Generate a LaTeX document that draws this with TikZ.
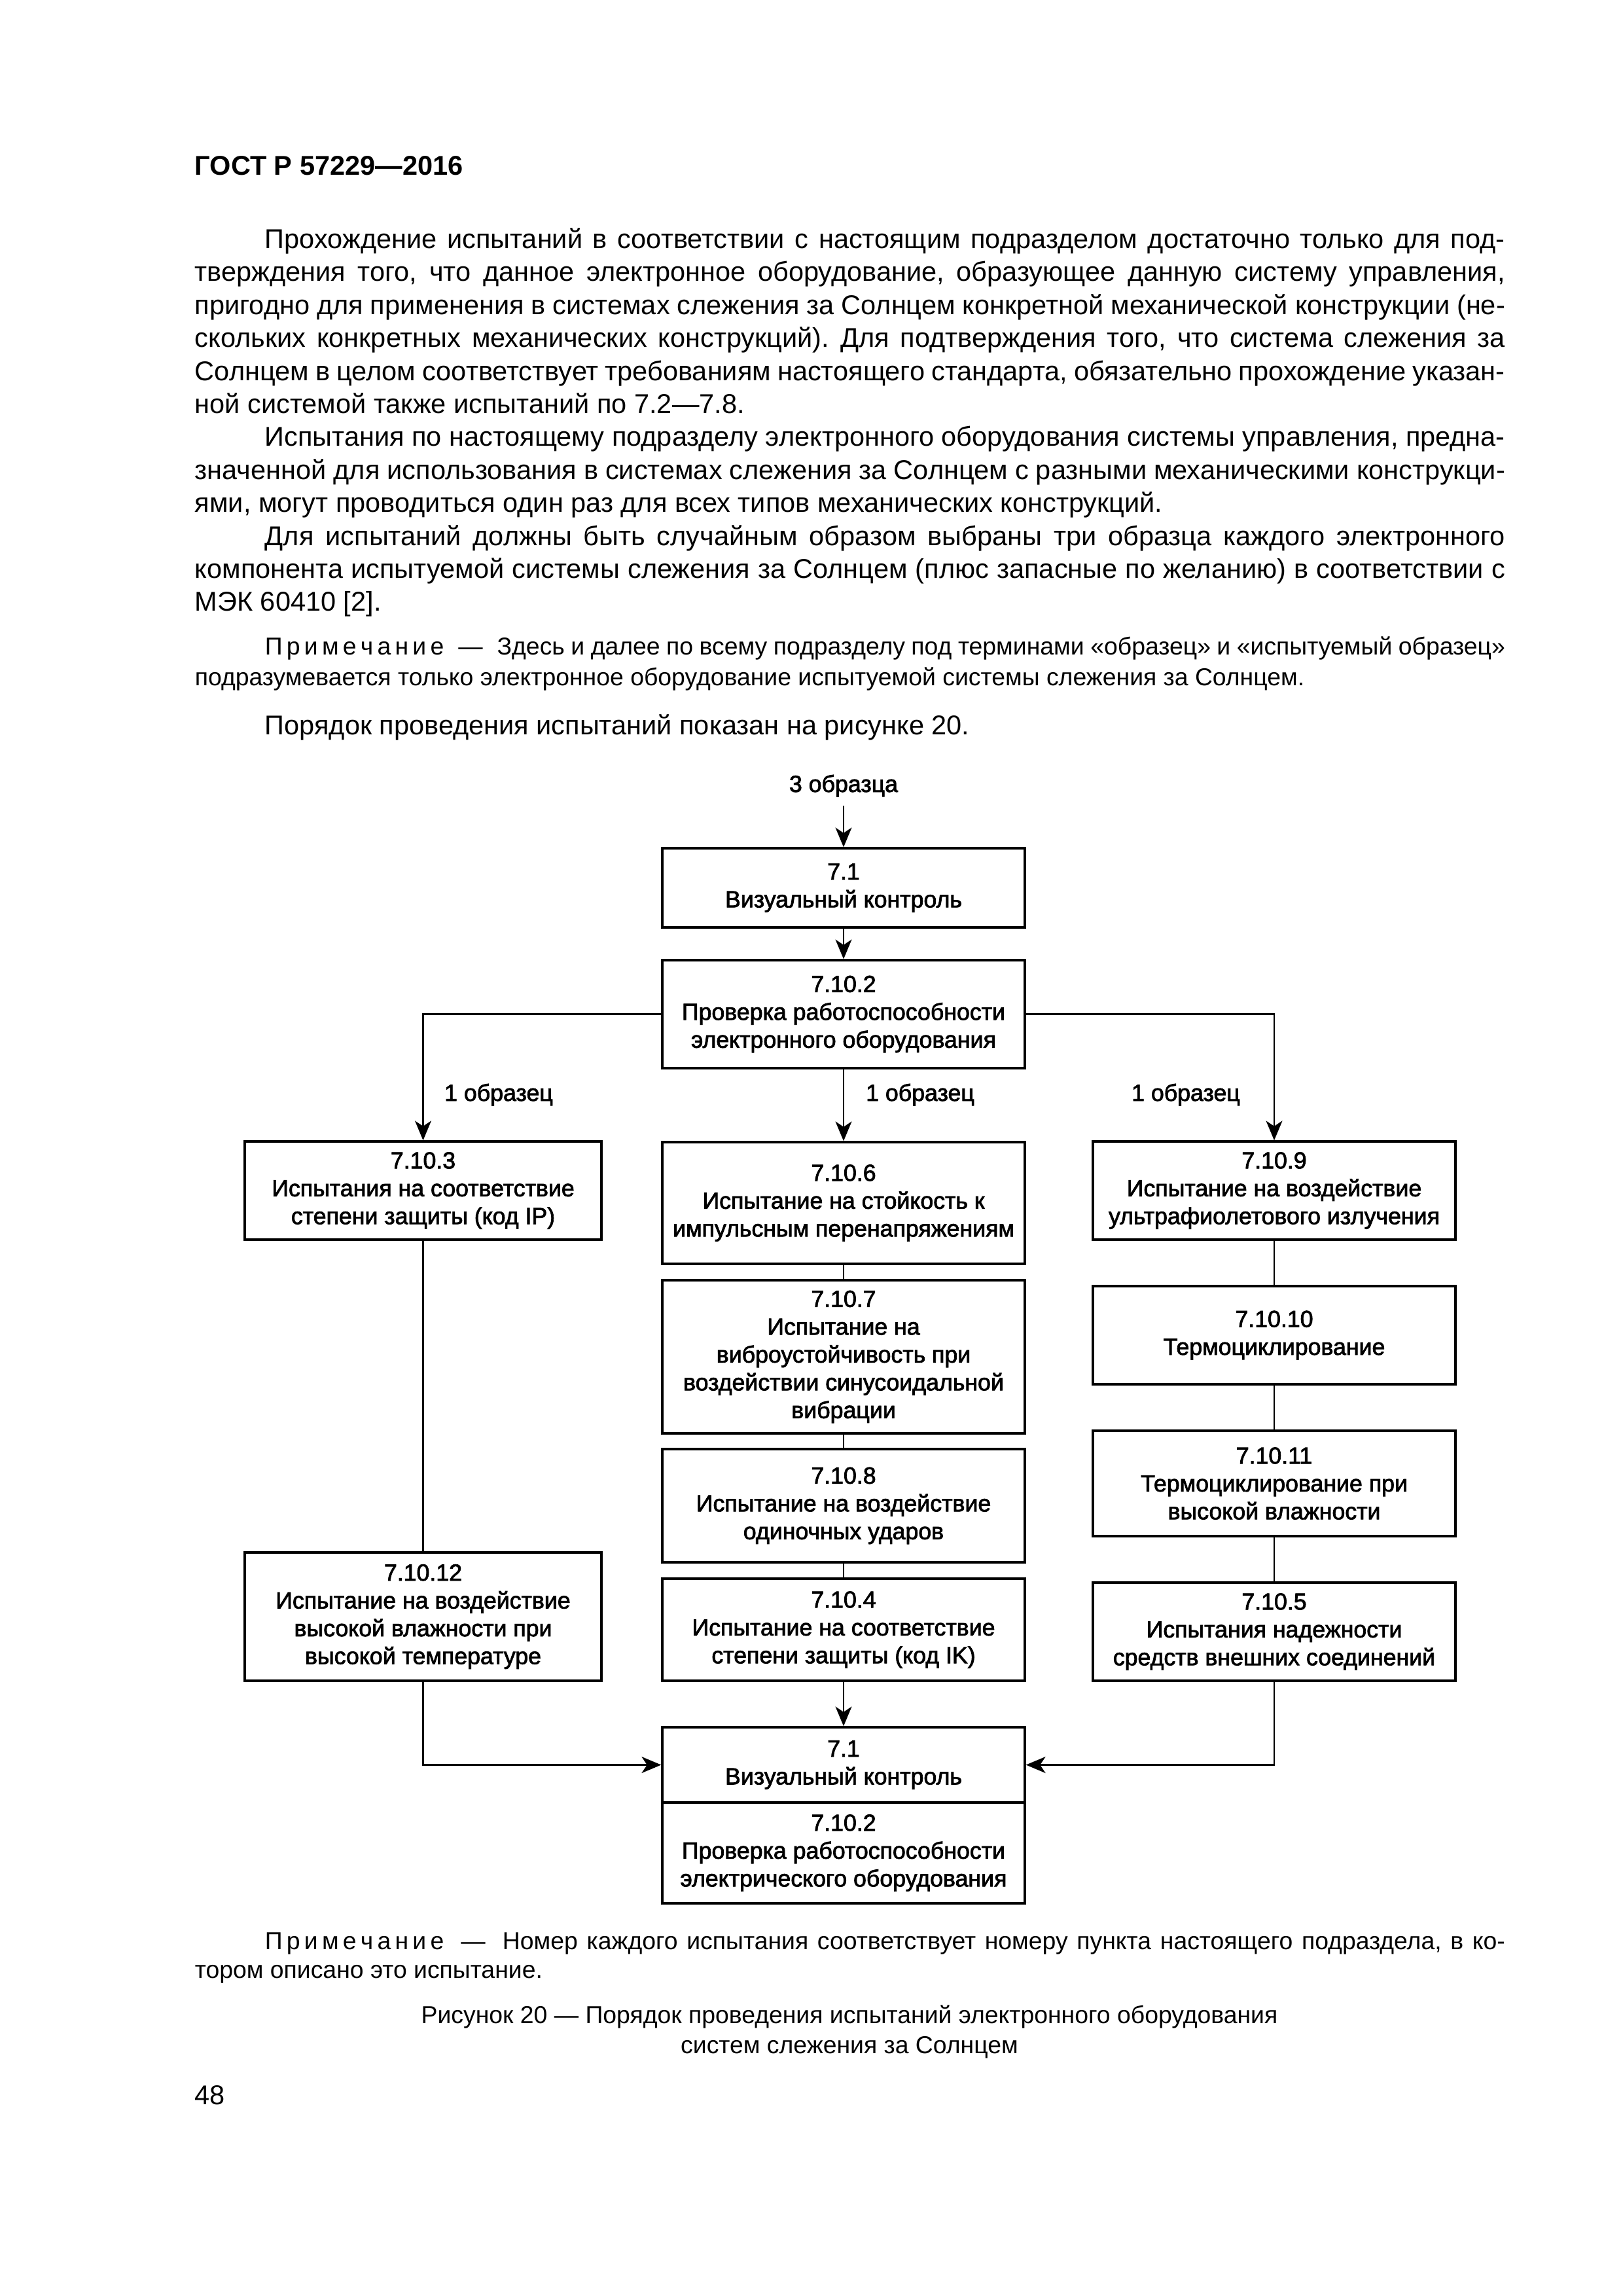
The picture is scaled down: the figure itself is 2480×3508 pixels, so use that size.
\documentclass[tikz,border=0pt]{standalone}
\usepackage{fontspec}
\setmainfont{Liberation Sans}
\newfontfamily\diagfam{Liberation Sans}[FakeBold=2.2]
\usetikzlibrary{arrows.meta}
\frenchspacing
\newdimen\pxu \pxu=0.0846774mm
\newcommand\bodyf{\fontsize{10}{12}\selectfont}
\newcommand\notef{\fontsize{9}{11}\selectfont}
\newcommand\diagf{\diagfam\fontsize{8.6}{10.24}\selectfont}
\newcommand\jl[1]{\makebox[2002\pxu][s]{#1}}
\newcommand\il[1]{\makebox[1895\pxu][s]{#1}}
\newcommand\prim{П\,р\,и\,м\,е\,ч\,а\,н\,и\,е\hspace{3pt}}
\newcommand\ndash{—\hspace{3pt}}
\tikzset{
  box/.style={draw, line width=0.8pt, inner sep=0pt, align=center, font=\diagf, minimum width=554\pxu},
  conn/.style={line width=0.65pt},
  arr/.style={conn, -{Stealth[length=7.2pt,width=6pt,inset=2pt]}},
  txt/.style={anchor=base west, inner sep=0pt, font=\bodyf},
  ntxt/.style={anchor=base west, inner sep=0pt, font=\notef},
  lbl/.style={anchor=base, inner sep=0pt, font=\diagf},
}
\begin{document}
\frenchspacing
\begin{tikzpicture}[x=0.0846774mm, y=-0.0846774mm]
\useasboundingbox (0,0) rectangle (2480,3508);
\fill[white] (0,0) rectangle (2480,3508);

\node[txt, font=\bodyf\bfseries] (hdr) at (297,267) {ГОСТ Р 57229—2016};

\node[txt] (p1a) at (404,379.5) {\il{Прохождение испытаний в соответствии с настоящим подразделом достаточно только для под-}};
\node[txt] (p1b) at (297,429.9) {\jl{тверждения того, что данное электронное оборудование, образующее данную систему управления,}};
\node[txt] (p1c) at (297,480.3) {\jl{пригодно для применения в системах слежения за Солнцем конкретной механической конструкции (не-}};
\node[txt] (p1d) at (297,530.7) {\jl{скольких конкретных механических конструкций). Для подтверждения того, что система слежения за}};
\node[txt] (p1e) at (297,581.1) {\jl{Солнцем в целом соответствует требованиям настоящего стандарта, обязательно прохождение указан-}};
\node[txt] (p1f) at (297,631.5) {ной системой также испытаний по 7.2—7.8.};

\node[txt] (p2a) at (404,681.9) {\il{Испытания по настоящему подразделу электронного оборудования системы управления, предна-}};
\node[txt] (p2b) at (297,732.3) {\jl{значенной для использования в системах слежения за Солнцем с разными механическими конструкци-}};
\node[txt] (p2c) at (297,782.7) {ями, могут проводиться один раз для всех типов механических конструкций.};

\node[txt] (p3a) at (404,833.1) {\il{Для испытаний должны быть случайным образом выбраны три образца каждого электронного}};
\node[txt] (p3b) at (297,883.5) {\jl{компонента испытуемой системы слежения за Солнцем (плюс запасные по желанию) в соответствии с}};
\node[txt] (p3c) at (297,933.9) {МЭК 60410 [2].};

\node[ntxt] (n1a) at (404,1000) {\il{\prim{} \ndash{} Здесь и далее по всему подразделу под терминами «образец» и «испытуемый образец»}};
\node[ntxt] (n1b) at (297,1047) {подразумевается только электронное оборудование испытуемой системы слежения за Солнцем.};

\node[txt] (p4) at (404,1122) {Порядок проведения испытаний показан на рисунке 20.};

% diagram
\node[lbl] (l3) at (1289,1210) {3 образца};
\node[box, minimum height=121\pxu] (b71) at (1289,1356.5) {7.1\\Визуальный контроль};
\node[box, minimum height=165\pxu] (b7102) at (1289,1549.5) {7.10.2\\Проверка работоспособности\\электронного оборудования};
\node[box, minimum width=545\pxu, minimum height=150\pxu] (b7103) at (646.5,1819) {7.10.3\\Испытания на соответствие\\степени защиты (код IP)};
\node[box, minimum height=186\pxu] (b7106) at (1289,1838) {7.10.6\\Испытание на стойкость к\\импульсным перенапряжениям};
\node[box, minimum height=234\pxu] (b7107) at (1289,2073) {7.10.7\\Испытание на\\виброустойчивость при\\воздействии синусоидальной\\вибрации};
\node[box, minimum height=173\pxu] (b7108) at (1289,2300.5) {7.10.8\\Испытание на воздействие\\одиночных ударов};
\node[box, minimum height=156\pxu] (b7104) at (1289,2490) {7.10.4\\Испытание на соответствие\\степени защиты (код IK)};
\node[box, minimum height=150\pxu] (b7109) at (1947,1819) {7.10.9\\Испытание на воздействие\\ультрафиолетового излучения};
\node[box, minimum height=150\pxu] (b71010) at (1947,2040) {7.10.10\\Термоциклирование};
\node[box, line width=1.1pt, minimum height=161\pxu] (b71011) at (1947,2266.5) {7.10.11\\Термоциклирование при\\высокой влажности};
\node[box, minimum height=150\pxu] (b7105) at (1947,2493) {7.10.5\\Испытания надежности\\средств внешних соединений};
\node[box, minimum width=545\pxu, minimum height=196\pxu] (b71012) at (646.5,2470) {7.10.12\\Испытание на воздействие\\высокой влажности при\\высокой температуре};
\node[box, minimum height=115\pxu] (bb1) at (1289,2696.5) {7.1\\Визуальный контроль};
\node[box, minimum height=154\pxu] (bb2) at (1289,2831) {7.10.2\\Проверка работоспособности\\электрического оборудования};

\node[lbl] (l1a) at (762,1682) {1 образец};
\node[lbl] (l1b) at (1406,1682) {1 образец};
\node[lbl] (l1c) at (1812,1682) {1 образец};

\draw[arr] ([yshift=-3pt]l3.south) -- (b71.north);
\draw[arr] (b71.south) -- (b7102.north);
\draw[arr] (b7102.west) -| (b7103.north);
\draw[arr] (b7102.south) -- (b7106.north);
\draw[arr] (b7102.east) -| (b7109.north);
\draw[conn] (b7103.south) -- (b71012.north);
\draw[conn] (b7106.south) -- (b7107.north);
\draw[conn] (b7107.south) -- (b7108.north);
\draw[conn] (b7108.south) -- (b7104.north);
\draw[conn] (b7109.south) -- (b71010.north);
\draw[conn] (b71010.south) -- (b71011.north);
\draw[conn] (b71011.south) -- (b7105.north);
\draw[arr] (b7104.south) -- (bb1.north);
\draw[arr] (b71012.south) |- (bb1.west);
\draw[arr] (b7105.south) |- (bb1.east);

% text below
\node[ntxt] (n2a) at (404,2978) {\il{\prim{} \ndash{} Номер каждого испытания соответствует номеру пункта настоящего подраздела, в ко-}};
\node[ntxt] (n2b) at (297,3022) {тором описано это испытание.};
\node[anchor=base, inner sep=0pt, font=\notef] (c1) at (1298,3091) {Рисунок 20 — Порядок проведения испытаний электронного оборудования};
\node[anchor=base, inner sep=0pt, font=\notef] (c2) at (1298,3137) {систем слежения за Солнцем};
\node[txt] (pg) at (297,3215) {48};
\end{tikzpicture}
\end{document}
